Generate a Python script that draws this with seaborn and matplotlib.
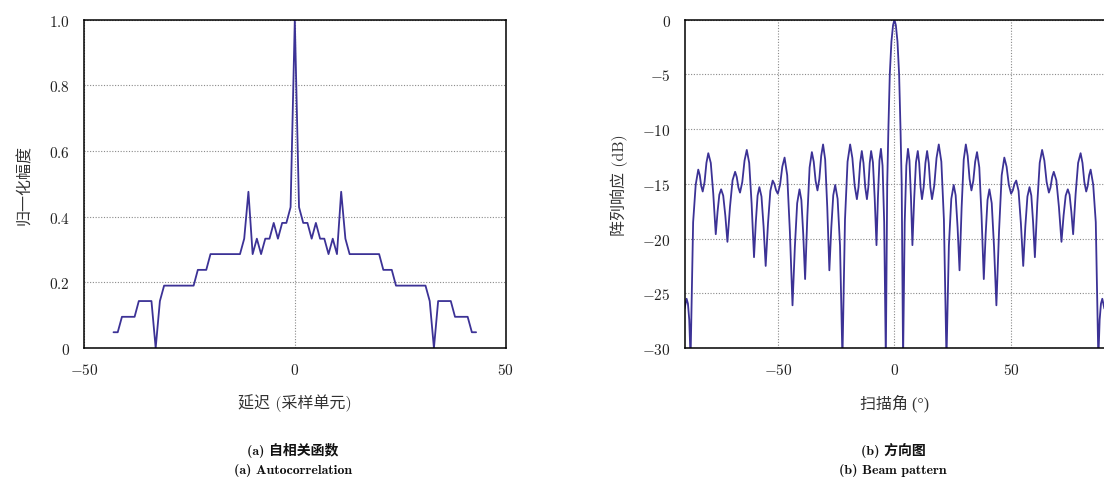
import matplotlib
matplotlib.use("Agg")
import matplotlib.pyplot as plt
import seaborn as sns

# ---------------- data ----------------
lags = list(range(-43, 44))
autocorr = [0.048, 0.048, 0.095, 0.095, 0.095, 0.095, 0.143, 0.143, 0.143, 0.143,
            0.0, 0.143, 0.190, 0.190, 0.190, 0.190, 0.190, 0.190, 0.190, 0.190,
            0.238, 0.238, 0.238, 0.286, 0.286, 0.286, 0.286, 0.286, 0.286, 0.286,
            0.286, 0.333, 0.476, 0.286, 0.333, 0.286, 0.333, 0.333, 0.381, 0.333,
            0.381, 0.381, 0.429,
            1.0,
            0.429, 0.381, 0.381, 0.333, 0.381, 0.333, 0.333, 0.286, 0.333, 0.286,
            0.476, 0.333, 0.286, 0.286, 0.286, 0.286, 0.286, 0.286, 0.286, 0.286,
            0.238, 0.238, 0.238, 0.190, 0.190, 0.190, 0.190, 0.190, 0.190, 0.190,
            0.190, 0.143, 0.0, 0.143, 0.143, 0.143, 0.143, 0.095, 0.095, 0.095,
            0.095, 0.048, 0.048]

scan_angle = [-90, -89.1, -88.53, -87.97, -87.4, -86.3, -85.2, -84.1, -83.47, -82.83,
              -82.2, -81.4, -80.6, -79.8, -78.73, -77.67, -76.6, -75.83, -75.07, -74.3,
              -73.4, -72.5, -71.6, -70.5, -69.4, -68.3, -67.6, -66.9, -66.2, -65.23,
              -64.27, -63.3, -62.27, -61.23, -60.2, -59.43, -58.67, -57.9, -57.0, -56.1,
              -55.2, -54.2, -53.2, -52.2, -51.47, -50.73, -50.0, -49.03, -48.07, -47.1,
              -45.97, -44.83, -43.7, -42.7, -41.7, -40.7, -39.9, -39.1, -38.3, -37.33,
              -36.37, -35.4, -34.6, -33.8, -33.0, -32.2, -31.4, -30.6, -29.7, -28.8,
              -27.9, -27.07, -26.23, -25.4, -24.37, -23.33, -22.3, -21.2, -20.1, -19.0,
              -18.03, -17.07, -16.1, -15.4, -14.7, -14.0, -13.27, -12.53, -11.8, -11.2,
              -10.6, -10.0, -9.23, -8.47, -7.7, -7.07, -6.43, -5.8, -5.1, -4.4,
              -3.7, -3.1, -2.6, -2.0, -1.3, -0.6, 0.0,
              0.6, 1.3, 2.0, 2.6, 3.1, 3.7,
              4.4, 5.1, 5.8, 6.43, 7.07, 7.7, 8.47, 9.23, 10.0, 10.6,
              11.2, 11.8, 12.53, 13.27, 14.0, 14.7, 15.4, 16.1, 17.07, 18.03,
              19.0, 20.1, 21.2, 22.3, 23.33, 24.37, 25.4, 26.23, 27.07, 27.9,
              28.8, 29.7, 30.6, 31.4, 32.2, 33.0, 33.8, 34.6, 35.4, 36.37,
              37.33, 38.3, 39.1, 39.9, 40.7, 41.7, 42.7, 43.7, 44.83, 45.97,
              47.1, 48.07, 49.03, 50.0, 50.73, 51.47, 52.2, 53.2, 54.2, 55.2,
              56.1, 57.0, 57.9, 58.67, 59.43, 60.2, 61.23, 62.27, 63.3, 64.27,
              65.23, 66.2, 66.9, 67.6, 68.3, 69.4, 70.5, 71.6, 72.5, 73.4,
              74.3, 75.07, 75.83, 76.6, 77.67, 78.73, 79.8, 80.6, 81.4, 82.2,
              82.83, 83.47, 84.1, 85.2, 86.3, 87.4, 87.97, 88.53, 89.1, 90]

response_db = [-26.4, -25.5, -25.94, -27.4, -31, -18.5, -15.08, -13.7, -14.2, -15.2,
               -15.7, -14.83, -13.08, -12.2, -13.09, -15.9, -19.6, -17.55, -15.99, -15.5,
               -16.08, -17.9, -20.3, -17.1, -14.67, -13.9, -14.38, -15.33, -15.8, -14.83,
               -12.88, -11.9, -13.08, -16.8, -21.7, -18.5, -16.07, -15.3, -16.16, -18.9,
               -22.5, -18.6, -15.64, -14.7, -15.0, -15.6, -15.9, -15.08, -13.43, -12.6,
               -14.22, -19.35, -26.1, -20.8, -16.77, -15.5, -16.48, -19.6, -23.7, -17.9,
               -13.5, -12.1, -12.98, -14.73, -15.6, -14.55, -12.45, -11.4, -12.78, -17.15,
               -22.9, -19.0, -16.04, -15.1, -16.37, -20.66, -31, -18.26, -12.97, -11.4,
               -12.65, -15.15, -16.4, -15.3, -13.1, -12.0, -13.1, -15.3, -16.4, -15.3,
               -13.1, -12.0, -13.03, -16.3, -20.6, -16.2, -12.86, -11.8, -13.34, -18.52,
               -31, -15, -10, -5, -2, -0.5, 0.0,
               -0.5, -2, -5, -10, -15, -31,
               -18.52, -13.34, -11.8, -12.86, -16.2, -20.6, -16.3, -13.03, -12.0, -13.1,
               -15.3, -16.4, -15.3, -13.1, -12.0, -13.1, -15.3, -16.4, -15.15, -12.65,
               -11.4, -12.97, -18.26, -31, -20.66, -16.37, -15.1, -16.04, -19.0, -22.9,
               -17.15, -12.78, -11.4, -12.45, -14.55, -15.6, -14.73, -12.98, -12.1, -13.5,
               -17.9, -23.7, -19.6, -16.48, -15.5, -16.77, -20.8, -26.1, -19.35, -14.22,
               -12.6, -13.43, -15.08, -15.9, -15.6, -15.0, -14.7, -15.64, -18.6, -22.5,
               -18.9, -16.16, -15.3, -16.07, -18.5, -21.7, -16.8, -13.08, -11.9, -12.88,
               -14.83, -15.8, -15.33, -14.38, -13.9, -14.67, -17.1, -20.3, -17.9, -16.08,
               -15.5, -15.99, -17.55, -19.6, -15.9, -13.09, -12.2, -13.08, -14.83, -15.7,
               -15.2, -14.2, -13.7, -15.08, -18.5, -31, -27.4, -25.94, -25.5, -26.4]

left_xticks = [-50, 0, 50]
left_yticks = [0, 0.2, 0.4, 0.6, 0.8, 1.0]
left_yticklabels = ["0", "0.2", "0.4", "0.6", "0.8", "1.0"]
right_xticks = [-50, 0, 50]
right_yticks = [0, -5, -10, -15, -20, -25, -30]

# ---------------- style ----------------
sns.set_theme(style="white")
plt.rcParams["font.family"] = ["cmr10", "Noto Sans CJK SC", "DejaVu Sans"]
plt.rcParams["mathtext.fontset"] = "cm"
plt.rcParams["axes.unicode_minus"] = True

LINE = "#3c3296"
W, H = 1104, 481
fig = plt.figure(figsize=(W / 100, H / 100), dpi=100)
fig.patch.set_facecolor("white")

bottom = 1 - 349 / H
height = (349 - 20.7) / H
ax1 = fig.add_axes([84 / W, bottom, (505.6 - 84) / W, height])
ax2 = fig.add_axes([684.5 / W, bottom, (1104.4 - 684.5) / W, height])

sns.lineplot(x=lags, y=autocorr, ax=ax1, color=LINE, linewidth=1.3)
sns.lineplot(x=scan_angle, y=response_db, ax=ax2, color=LINE, linewidth=1.3)

label_font = ["cmr10", "Noto Sans CJK SC"]

for ax in (ax1, ax2):
    ax.set_facecolor("white")
    ax.grid(True, linestyle=(0, (1, 1.5)), color="#8a8a8a", linewidth=0.8)
    ax.set_axisbelow(True)
    for sp in ax.spines.values():
        sp.set_color("black")
        sp.set_linewidth(1.1)
    ax.tick_params(axis="both", length=0, pad=10, labelsize=11, colors="#222222")

ax1.set_xlim(-50, 50)
ax1.set_ylim(0, 1.0)
ax1.set_xticks(left_xticks)
ax1.set_xticklabels([f"${v}$" for v in left_xticks])
ax1.set_yticks(left_yticks)
ax1.set_yticklabels([f"${v}$" for v in left_yticklabels])
ax1.set_xlabel("延迟 (采样单元)", family=label_font, fontsize=11.5, color="#333333", labelpad=12)
ax1.set_ylabel("归一化幅度", family=label_font, fontsize=11.5, color="#333333", labelpad=12)

ax2.set_xlim(-90, 90)
ax2.set_ylim(-30, 0)
ax2.set_xticks(right_xticks)
ax2.set_xticklabels([f"${v}$" for v in right_xticks])
ax2.set_yticks(right_yticks)
ax2.set_yticklabels([f"${v}$" for v in right_yticks])
ax2.spines["right"].set_visible(False)
ax2.set_xlabel("扫描角 (°)", family=["Liberation Serif", "Noto Sans CJK SC"], fontsize=11.5,
               color="#333333", labelpad=12)
ax2.set_ylabel("阵列响应 (dB)", family=label_font, fontsize=11.5, color="#333333", labelpad=10)

cap_font = ["cmb10", "Noto Sans CJK SC"]
fig.text(293 / W, 1 - 450 / H, "(a) 自相关函数", family=cap_font, fontsize=10,
         fontweight="bold", ha="center", va="center", color="#111111")
fig.text(293 / W, 1 - 471 / H, "(a) Autocorrelation", family=cap_font, fontsize=10,
         fontweight="bold", ha="center", va="center", color="#111111")
fig.text(893 / W, 1 - 450 / H, "(b) 方向图", family=cap_font, fontsize=10,
         fontweight="bold", ha="center", va="center", color="#111111")
fig.text(893 / W, 1 - 471 / H, "(b) Beam pattern", family=cap_font, fontsize=10,
         fontweight="bold", ha="center", va="center", color="#111111")

fig.savefig("out.png", dpi=100, facecolor="white")
